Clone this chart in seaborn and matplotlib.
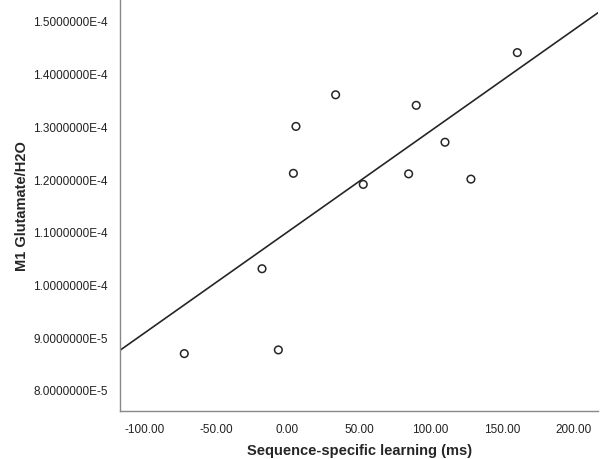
import numpy as np
import pandas as pd
import matplotlib
matplotlib.use("Agg")
import matplotlib.pyplot as plt
import seaborn as sns

# values
learning_ms = [-72.1, -17.8, -6.4, 4.1, 5.9, 33.6, 52.9, 89.9, 84.6, 110.0, 128.1, 160.5]
glutamate = [8.69e-5, 1.030e-4, 8.76e-5, 1.211e-4, 1.300e-4, 1.360e-4,
             1.190e-4, 1.340e-4, 1.210e-4, 1.270e-4, 1.200e-4, 1.440e-4]

x_ticks = [-100, -50, 0, 50, 100, 150, 200]
x_tick_labels = ["-100.00", "-50.00", "0.00", "50.00", "100.00", "150.00", "200.00"]
y_ticks = [8e-5, 9e-5, 1.0e-4, 1.1e-4, 1.2e-4, 1.3e-4, 1.4e-4, 1.5e-4]
y_tick_labels = ["8.0000000E-5", "9.0000000E-5", "1.0000000E-4", "1.1000000E-4",
                 "1.2000000E-4", "1.3000000E-4", "1.4000000E-4", "1.5000000E-4"]

df = pd.DataFrame({"x": learning_ms, "y": glutamate})

sns.set_style("white")
plt.rcParams['font.family'] = ['Liberation Sans', 'DejaVu Sans']

fig = plt.figure(figsize=(6, 4.6), dpi=100)
ax = fig.add_axes([0.2, 0.105, 0.797, 0.895])

ax.set_xlim(-117, 217)
ax.set_ylim(7.607e-5, 1.5417e-4)

# regression line across the whole axis, then open circles
sns.regplot(data=df, x="x", y="y", ax=ax, ci=None, truncate=False,
            scatter=False, line_kws={"color": "#262626", "linewidth": 1.2})
sns.scatterplot(data=df, x="x", y="y", ax=ax, marker="o", s=30,
                facecolor="none", edgecolor="#262626", linewidth=1.1, zorder=3)

ax.set_xticks(x_ticks)
ax.set_xticklabels(x_tick_labels)
ax.set_yticks(y_ticks)
ax.set_yticklabels(y_tick_labels)

ax.tick_params(axis="both", direction="out", length=5, width=1.2,
               color="#555555", labelsize=8.5, labelcolor="#222222", pad=4)

for s in ["top", "right"]:
    ax.spines[s].set_visible(False)
for s in ["left", "bottom"]:
    ax.spines[s].set_color("#888888")
    ax.spines[s].set_linewidth(1.0)

ax.set_xlabel("Sequence-specific learning (ms)", fontsize=10.5, fontweight="bold", labelpad=5.5)
ax.set_ylabel("M1 Glutamate/H2O", fontsize=10.5, fontweight="bold", labelpad=3)

fig.savefig("out.png", dpi=100)
